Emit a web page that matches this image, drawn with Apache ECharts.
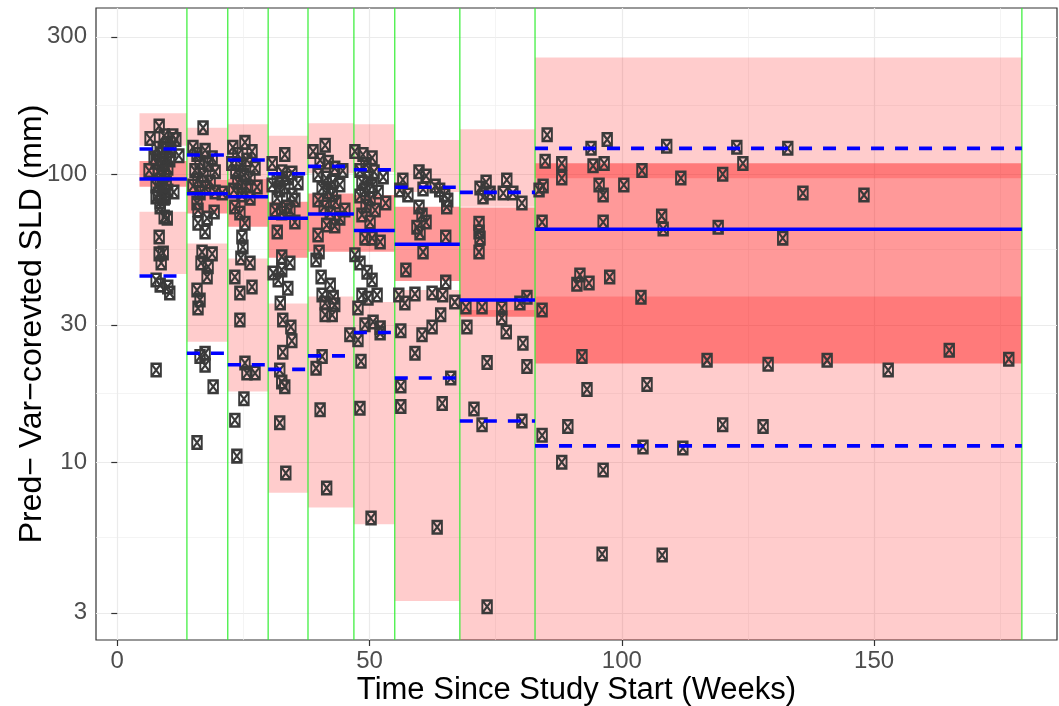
<!DOCTYPE html>
<html><head><meta charset="utf-8">
<script src="https://cdn.jsdelivr.net/npm/echarts@6/dist/echarts.min.js"></script>
<style>html,body{margin:0;padding:0;background:#fff}#c{width:1059px;height:706px}</style>
</head><body><div id="c"></div>
<script>
// ---- bins (weeks) ----
const binStart = [4.4, 13.8, 21.9, 29.9, 37.8, 46.9, 55.0, 67.9, 82.8];
const binEnd   = [13.8, 21.9, 29.9, 37.8, 46.9, 55.0, 67.9, 82.8, 179.3];
const binLines = [13.8, 21.9, 29.9, 37.8, 46.9, 55.0, 67.9, 82.8, 179.3];

// ---- simulated confidence bands (mm) ----
const p95Lo = [125.6, 95.5, 96.2, 99.4, 100.7, 101.8, 86.7, 77.1, 96.8];
const p95Hi = [162.7, 145.0, 149.1, 136.1, 150.2, 149.1, 131.5, 143.2, 254.2];
const p50Lo = [90.5, 73.1, 65.7, 51.3, 53.8, 53.8, 42.6, 32.0, 22.0];
const p50Hi = [111.1, 95.5, 96.2, 80.3, 85.8, 84.7, 77.1, 76.6, 109.1];
const p5Lo  = [45.0, 26.2, 17.6, 7.84, 6.97, 6.09, 3.30, 2.0, 2.0];
const p5Hi  = [74.1, 57.5, 51.0, 35.6, 37.6, 36.0, 39.6, 33.8, 37.6];

// ---- observed percentiles (mm) ----
const obsP95 = [122.4, 116.6, 112.0, 100.4, 106.5, 103.7, 90.1, 86.5, 123.0];
const obsP50 = [96.2, 85.5, 83.5, 70.3, 72.8, 63.8, 57.1, 36.6, 64.4];
const obsP5  = [44.3, 23.9, 21.8, 21.0, 23.4, 28.2, 19.6, 13.9, 11.4];

// ---- observations ----
const obsTime = [
 8.3,6.5,9.3,11.0,10.0,12.2,6.3,7.9,9.1,8.5,9.7,7.7,8.9,10.0,8.1,9.3,8.5,9.7,7.7,8.9,10.0,8.1,9.3,8.5,11.2,7.7,9.5,8.5,9.3,9.9,8.3,9.1,8.3,8.7,7.7,8.5,10.0,10.4,7.7,10.6,11.6,7.3,10.4,
 17.0,15.0,17.4,15.8,18.8,16.4,18.0,15.4,19.4,17.0,16.0,18.4,15.0,17.4,16.4,19.4,20.8,15.8,16.0,19.2,17.8,16.0,17.4,16.8,18.8,16.6,18.0,17.8,15.8,16.4,16.0,16.4,17.4,17.4,19.0,15.8,
 22.9,25.3,26.7,23.9,25.7,22.7,24.5,27.3,23.5,25.1,26.3,23.9,25.5,27.7,23.1,24.7,26.3,23.3,24.3,25.3,24.7,24.9,24.5,26.3,23.3,26.7,24.3,24.3,25.3,25.7,27.3,25.1,23.3,23.7,
 33.2,30.7,32.6,34.6,31.7,35.8,33.2,34.6,31.7,33.6,31.3,32.6,35.2,31.7,32.6,34.2,30.9,32.6,31.9,33.8,32.3,32.8,34.4,34.6,32.8,32.2,32.6,33.2,32.2,33.4,32.2,33.8,35.2,30.7,34.2,
 38.8,41.2,40.2,41.8,43.1,44.7,39.8,41.4,42.7,40.6,44.1,41.8,42.6,39.8,43.3,41.0,45.1,42.2,44.1,41.5,43.1,39.8,40.0,39.4,40.4,42.2,40.6,42.8,41.2,43.1,41.2,42.6,46.1,40.6,39.4,40.2,41.5,
 47.1,48.7,50.5,49.3,48.1,50.9,49.7,52.7,48.5,50.5,49.1,51.7,48.1,50.1,53.2,49.3,51.1,48.5,50.1,49.1,50.5,52.1,47.1,48.1,49.5,50.5,51.5,48.5,49.7,47.7,50.7,49.1,52.1,47.7,52.1,48.3,48.1,50.3,
 59.8,61.2,56.6,56.0,57.6,60.6,63.0,63.9,64.9,65.5,65.3,59.8,60.4,61.2,59.4,60.0,65.1,60.6,57.2,65.1,55.8,57.0,59.0,62.4,64.5,66.9,64.1,62.4,60.4,56.2,59.0,56.2,56.2,66.1,64.4,63.4,
 73.1,71.9,72.5,77.2,76.5,73.9,78.4,80.2,71.7,71.7,71.9,71.7,69.1,72.3,76.2,76.2,79.8,81.2,69.3,77.1,80.4,73.3,81.2,70.7,72.3,80.2,73.3,
 85.2,84.8,88.1,88.1,84.4,83.6,93.9,94.3,96.5,97.1,95.5,96.3,100.4,104.0,108.9,111.7,120.0,122.8,124.0,132.9,135.9,148.0,84.2,96.3,107.9,108.2,119.1,131.9,91.7,91.1,93.5,97.6,103.8,84.2,92.1,93.1,105.0,116.9,129.0,140.7,152.8,164.9,176.7,89.3,84.2,104.2,112.1,120.0,128.0,88.1,96.3,96.1,108.0
];
const obsValue = [
 147,133,136,136,128,116,103,123,121,117,114,110,108,105,102,99.4,95.5,93.2,91.0,89.6,87.4,85.3,82.6,80.1,86.7,83.3,83.3,77.0,71.0,70.4,60.5,53.3,52.9,49.2,42.9,41.2,40.6,38.7,20.9,121,132,114,112,
 145,124,121,117,114,110,108,103,102,99.4,95.5,94.0,91.0,89.6,86.0,86.7,86.0,79.4,75.1,73.9,70.4,67.6,63.0,53.7,52.9,49.2,47.7,44.0,39.6,36.6,34.3,23.3,23.9,21.7,18.3,11.7,
 124,129,120,117,112,109,108,105,102,99.4,97.0,93.9,91.0,90.3,88.1,84.7,82.6,77.0,73.3,67.6,60.5,55.9,51.2,49.2,44.0,40.6,38.7,31.2,22.1,20.4,20.4,16.6,14.0,10.5,
 117,109,102,101,95.5,93.2,90.3,84.7,82.6,77.0,75.1,73.3,68.2,63.0,51.7,49.2,45.4,46.5,42.9,40.2,35.7,31.2,29.5,26.4,24.1,20.9,19.0,18.3,13.7,9.17,88.1,97.0,81.4,91.8,75.1,
 120,126,112,110,105,103,99.4,97.0,93.9,89.6,91.8,86.7,84.7,81.4,80.1,77.0,75.1,73.3,70.4,66.6,66.1,61.5,53.7,50.4,44.0,41.2,38.1,37.4,35.7,35.2,32.5,32.5,27.7,23.3,21.2,15.2,8.14,
 120,117,114,108,103,102,97.0,97.8,93.9,91.0,88.1,86.7,84.0,82.0,79.4,77.6,75.1,72.2,68.2,60.0,60.0,58.2,52.5,49.2,45.7,42.9,38.1,38.1,37.1,34.3,30.7,30.0,29.3,26.6,28.1,22.4,15.4,6.40,
 102,98.6,95.5,88.1,84.7,88.8,91.0,88.1,84.7,81.4,77.0,77.0,72.2,68.2,65.5,62.5,60.5,53.7,46.5,42.2,38.1,35.7,38.4,38.7,38.1,36.0,32.5,29.5,27.7,28.6,23.9,18.4,15.6,19.6,16.0,5.95,
 93.9,89.6,83.3,95.5,86.0,86.0,86.0,79.4,67.6,63.0,60.0,53.7,34.6,34.6,34.3,31.7,35.7,37.4,29.5,28.3,25.9,22.2,21.5,15.3,13.5,13.9,3.15,
 137,111,109,97.0,91.0,88.1,123,107,109,132,91.8,84.7,91.8,103,125,97.0,100,124,109,123,86.0,84.7,68.2,68.2,71.6,64.5,65.5,60.0,44.7,41.5,41.9,44.0,37.4,33.8,23.3,17.9,18.6,22.6,21.9,22.6,20.9,24.5,22.8,13.3,12.4,11.3,11.2,13.5,13.3,10.0,9.4,4.80,4.76
];

// ---- axes ----
const xTicks = [0, 50, 100, 150];
const xMinorTicks = [25, 75, 125, 175];
const yTicks = [3, 10, 30, 100, 300];
const yMinorTicks = [5.48, 17.3, 54.8, 173.2];
const xRange = [-4.22, 186.26];
const yRange = [2.414, 377.7];

const L = Math.log10;
const FONT = 'Liberation Sans';

function bandSeries(lo, hi, color) {
  return {
    type: 'custom', xAxisIndex: 0, yAxisIndex: 0, z: 2, silent: true,
    data: binStart.map((s, i) => [s, binEnd[i], L(lo[i]), L(hi[i])]),
    renderItem: function (params, api) {
      const cs = params.coordSys;
      const a = api.coord([api.value(0), api.value(3)]);
      const b = api.coord([api.value(1), api.value(2)]);
      const top = Math.max(a[1], cs.y);
      const bot = Math.min(b[1], cs.y + cs.height);
      return { type: 'rect', shape: { x: a[0], y: top, width: b[0] - a[0], height: bot - top },
               style: { fill: color } };
    }
  };
}
function segSeries(vals, dashed) {
  return {
    type: 'custom', xAxisIndex: 0, yAxisIndex: 0, z: 6, silent: true,
    data: binStart.map((s, i) => [s, binEnd[i], L(vals[i])]),
    renderItem: function (params, api) {
      const a = api.coord([api.value(0), api.value(2)]);
      const b = api.coord([api.value(1), api.value(2)]);
      return { type: 'line', shape: { x1: a[0], y1: a[1], x2: b[0], y2: b[1] },
               style: { stroke: '#0000FF', lineWidth: 3.6, lineDash: dashed ? [13, 11] : null, lineCap: 'butt' } };
    }
  };
}

const chart = echarts.init(document.getElementById('c'), null, { renderer: 'canvas' });
const commonX = { type: 'value', min: xRange[0], max: xRange[1] };
const commonY = { type: 'value', min: L(yRange[0]), max: L(yRange[1]) };
chart.setOption({
  animation: false,
  backgroundColor: '#ffffff',
  grid: { left: 96, right: 2, top: 8, bottom: 66, containLabel: false, outerBoundsMode: 'none',
          show: true, borderColor: '#333333', borderWidth: 1.2, backgroundColor: 'transparent' },
  xAxis: [
    Object.assign({}, commonX, {
      position: 'bottom',
      axisLine: { show: false },
      axisTick: { show: true, length: 6, lineStyle: { color: '#333333', width: 1.2 }, customValues: xTicks },
      axisLabel: { customValues: xTicks, margin: 9, fontSize: 24, color: '#4D4D4D', fontFamily: FONT },
      splitLine: { show: true, lineStyle: { color: '#EBEBEB', width: 1.2 } },
      name: 'Time Since Study Start (Weeks)', nameLocation: 'middle', nameGap: 35, nameMoveOverlap: false,
      nameTextStyle: { fontSize: 31, color: '#000000', fontFamily: FONT }
    }),
    Object.assign({}, commonX, {
      position: 'bottom',
      axisLine: { show: false }, axisLabel: { show: false },
      axisTick: { show: false, customValues: xMinorTicks },
      splitLine: { show: true, lineStyle: { color: '#EFEFEF', width: 0.7 } }
    })
  ],
  yAxis: [
    Object.assign({}, commonY, {
      position: 'left',
      axisLine: { show: false },
      axisTick: { show: true, length: 6, lineStyle: { color: '#333333', width: 1.2 }, customValues: yTicks.map(L) },
      axisLabel: { customValues: yTicks.map(L), margin: 9, fontSize: 24, color: '#4D4D4D', fontFamily: FONT,
                   formatter: v => String(Math.round(Math.pow(10, v))) },
      splitLine: { show: true, lineStyle: { color: '#EBEBEB', width: 1.2 } },
      name: 'Pred\u2212 Var\u2212corevted SLD (mm)', nameLocation: 'middle', nameGap: 48, nameMoveOverlap: false,
      nameTextStyle: { fontSize: 32, color: '#000000', fontFamily: FONT }
    }),
    Object.assign({}, commonY, {
      position: 'left',
      axisLine: { show: false }, axisLabel: { show: false },
      axisTick: { show: false, customValues: yMinorTicks.map(L) },
      splitLine: { show: true, lineStyle: { color: '#EFEFEF', width: 0.7 } }
    })
  ],
  series: [
    bandSeries(p95Lo, p95Hi, 'rgba(255,0,0,0.2)'),
    bandSeries(p50Lo, p50Hi, 'rgba(255,0,0,0.4)'),
    bandSeries(p5Lo, p5Hi, 'rgba(255,0,0,0.2)'),
    {
      type: 'custom', xAxisIndex: 0, yAxisIndex: 0, z: 3, silent: true,
      data: binLines.map(w => [w]),
      renderItem: function (params, api) {
        const cs = params.coordSys;
        const p = api.coord([api.value(0), L(10)]);
        return { type: 'line', shape: { x1: p[0], y1: cs.y, x2: p[0], y2: cs.y + cs.height },
                 style: { stroke: '#33EE33', lineWidth: 1.2 } };
      }
    },
    {
      type: 'scatter', xAxisIndex: 0, yAxisIndex: 0, z: 4, silent: true,
      data: obsTime.map((t, i) => [t, L(obsValue[i])]),
      symbol: 'path://M0,0L10,0L10,13L0,13Z M0,0L10,13 M10,0L0,13',
      symbolSize: [9.5, 12.5],
      itemStyle: { color: 'transparent', borderColor: '#3A3A3A', borderWidth: 2.2, opacity: 1 }
    },
    segSeries(obsP95, true),
    segSeries(obsP50, false),
    segSeries(obsP5, true)
  ]
});
</script></body></html>
